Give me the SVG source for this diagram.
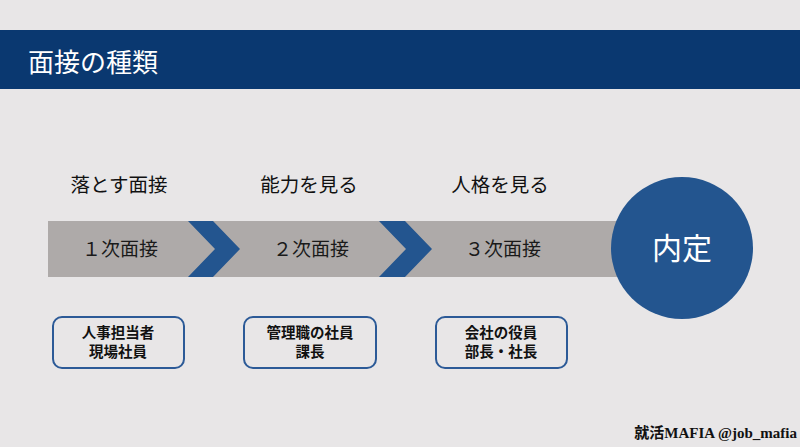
<svg xmlns="http://www.w3.org/2000/svg" width="800" height="447" viewBox="0 0 800 447">
<style>
.jp{font-family:"Noto Sans CJK JP","Noto Sans",sans-serif;}
.lbl{font-size:19.5px;fill:#111;text-anchor:middle;}
.step{font-size:19px;fill:#1a1a1a;text-anchor:middle;}
.box{fill:none;stroke:#2c5a97;stroke-width:2;}
.btxt{font-size:14.5px;font-weight:bold;fill:#111;text-anchor:middle;}
.chev{fill:#23558f;}
</style>
<rect x="0" y="0" width="800" height="447" fill="#e8e6e7"/>
<g id="header">
<rect x="0" y="30" width="800" height="59" fill="#0a3870"/>
<text x="28" y="72" class="jp" font-size="26" fill="#ffffff">面接の種類</text>
</g>
<g id="bar">
<rect x="48" y="221" width="600" height="56" fill="#aeaaa9"/>
</g>
<g id="connectors">
<polygon class="chev" points="188,221 213,221 240,249 213,277 188,277 215,249"/>
<polygon class="chev" points="379,221 405,221 432,249 405,277 379,277 406,249"/>
</g>
<g id="step1">
<text x="119" y="192" class="jp lbl">落とす面接</text>
<text x="120" y="256" class="jp step">１次面接</text>
</g>
<g id="step2">
<text x="309" y="192" class="jp lbl">能力を見る</text>
<text x="311" y="256" class="jp step">２次面接</text>
</g>
<g id="step3">
<text x="500" y="192" class="jp lbl">人格を見る</text>
<text x="503" y="256" class="jp step">３次面接</text>
</g>
<g id="naitei">
<circle cx="682" cy="248" r="71" fill="#23558f"/>
<text x="682" y="259" class="jp" font-size="30" fill="#ffffff" text-anchor="middle">内定</text>
</g>
<g id="box1">
<rect x="53" y="317" width="131" height="51" rx="9" class="box"/>
<text x="118" y="338" class="jp btxt">人事担当者</text>
<text x="118" y="357" class="jp btxt">現場社員</text>
</g>
<g id="box2">
<rect x="244" y="317" width="132" height="51" rx="9" class="box"/>
<text x="310" y="338" class="jp btxt">管理職の社員</text>
<text x="310" y="357" class="jp btxt">課長</text>
</g>
<g id="box3">
<rect x="436" y="317" width="131" height="51" rx="9" class="box"/>
<text x="501" y="338" class="jp btxt">会社の役員</text>
<text x="501" y="357" class="jp btxt">部長・社長</text>
</g>
<g id="footer">
<text x="797" y="438" font-family="Liberation Serif,'Noto Sans CJK JP',serif" font-size="15" font-weight="bold" fill="#111" text-anchor="end">就活MAFIA @job_mafia</text>
</g>
</svg>
